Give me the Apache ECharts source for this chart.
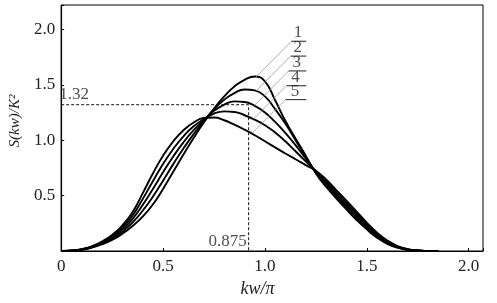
<!DOCTYPE html>
<html>
<head>
<meta charset="utf-8">
<script src="https://cdn.jsdelivr.net/npm/echarts@6/dist/echarts.min.js"></script>
<style>
    html, body {margin: 0; padding: 0; background: #fff;}
    #main {width: 497px; height: 303px;}
</style>
</head>
<body>
<div id="main"></div>
<script>
// x 网格 (kw/π)
var xs = [0, 0.05, 0.1, 0.15, 0.2, 0.25, 0.3, 0.35, 0.4, 0.45, 0.5, 0.55, 0.6, 0.65, 0.7, 0.75, 0.8, 0.85, 0.9, 0.95,
    1.0, 1.05, 1.1, 1.15, 1.2, 1.25, 1.3, 1.35, 1.4, 1.45, 1.5, 1.55, 1.6, 1.65, 1.7, 1.75, 1.8, 1.85];

// 五条曲线 S(kw)/K^2
var curve1 = [0, .002, .01, .03, .06, .10, .155, .225, .31, .42, .56, .715, .87, 1.02, 1.16, 1.285, 1.395, 1.485, 1.545, 1.575,
    1.53, 1.36, 1.175, 1.015, .86, .70, .58, .475, .375, .28, .195, .12, .065, .03, .01, .003, 0, 0];
var curve2 = [0, .0025, .0115, .033, .066, .111, .174, .256, .363, .49, .635, .784, .925, 1.055, 1.17, 1.28, 1.365, 1.425, 1.458, 1.45,
    1.395, 1.28, 1.15, 1.00, .85, .71, .595, .494, .395, .299, .21, .131, .073, .034, .012, .0035, 0, 0];
var curve3 = [0, .003, .013, .036, .073, .123, .193, .288, .415, .56, .71, .853, .98, 1.09, 1.18, 1.265, 1.32, 1.35, 1.345, 1.31,
    1.25, 1.165, 1.065, .955, .835, .715, .61, .513, .415, .318, .225, .143, .08, .038, .014, .004, 0, 0];
var curve4 = [0, .0035, .0145, .039, .079, .134, .211, .319, .468, .63, .785, .921, 1.035, 1.125, 1.19, 1.24, 1.26, 1.255, 1.225, 1.185,
    1.135, 1.07, .99, .90, .81, .72, .625, .531, .435, .336, .24, .154, .088, .041, .015, .0045, .001, 0];
var curve5 = [0, .004, .016, .042, .085, .145, .23, .35, .52, .70, .86, .99, 1.09, 1.16, 1.20, 1.205, 1.18, 1.14, 1.095, 1.045,
    .99, .935, .88, .828, .775, .725, .645, .55, .455, .355, .255, .165, .095, .045, .017, .005, .001, 0];
var curves = [curve1, curve2, curve3, curve4, curve5];

// 标注 1-5：引线在曲线上的端点、下划线的高度
var curveNames = ['1', '2', '3', '4', '5'];
var leaderEnd = [[0.957, 1.571], [0.957, 1.446], [0.947, 1.312], [0.942, 1.188], [0.937, 1.062]];
var underlineY = [1.893, 1.759, 1.625, 1.491, 1.366];
var underlineX0 = [1.130, 1.126, 1.116, 1.106, 1.101];
var underlineX1 = 1.203;

// 虚线标注点
var markX = 0.92, markY = 1.32;
var markXText = '0.875', markYText = '1.32';

var serif = 'Liberation Serif';
var myChart = echarts.init(document.getElementById('main'));

var series = [];
for (var i = 0; i < curves.length; i++) {
    var pts = [];
    for (var j = 0; j < xs.length; j++) {
        pts.push([xs[j], curves[i][j]]);
    }
    series.push({
        name: curveNames[i],
        type: 'line',
        data: pts,
        smooth: 0.5,
        showSymbol: false,
        lineStyle: {color: '#000', width: 1.9}
    });
    // 引线
    series.push({
        type: 'line',
        data: [leaderEnd[i], [underlineX0[i], underlineY[i]]],
        showSymbol: false,
        lineStyle: {color: '#999', width: 0.8}
    });
    // 下划线
    series.push({
        type: 'line',
        data: [[underlineX0[i], underlineY[i]], [underlineX1, underlineY[i]]],
        showSymbol: false,
        lineStyle: {color: '#222', width: 1}
    });
}

// 曲线编号
var labelPts = [];
for (var k = 0; k < curveNames.length; k++) {
    labelPts.push([(underlineX0[k] + underlineX1) / 2 - 0.004, underlineY[k], curveNames[k]]);
}
series.push({
    type: 'scatter',
    data: labelPts,
    symbolSize: 0,
    label: {
        show: true,
        position: 'top',
        distance: 0,
        formatter: function (p) { return p.value[2]; },
        fontFamily: serif,
        fontSize: 17,
        color: '#222'
    }
});

// 虚线
series.push({
    type: 'line',
    data: [[0, markY], [markX, markY], [markX, 0]],
    showSymbol: false,
    lineStyle: {color: '#111', width: 1, type: [3, 2]}
});
series.push({
    type: 'scatter',
    data: [[0, markY, markYText]],
    symbolSize: 0,
    label: {
        show: true, position: 'top', align: 'left', distance: 2, offset: [-2, 0],
        formatter: function (p) { return p.value[2]; },
        fontFamily: serif, fontSize: 17, color: '#222'
    }
});
series.push({
    type: 'scatter',
    data: [[markX, 0, markXText]],
    symbolSize: 0,
    label: {
        show: true, position: 'top', align: 'right', distance: 1, offset: [-2, 0],
        formatter: function (p) { return p.value[2]; },
        fontFamily: serif, fontSize: 17, color: '#222'
    }
});

function halfStep(v) {
    return Math.abs(v * 2 - Math.round(v * 2)) < 1e-6;
}

var option = {
    animation: false,
    backgroundColor: '#fff',
    grid: {
        left: 54, right: 14, top: 5, bottom: 49,
        show: true, borderColor: '#000', borderWidth: 1
    },
    xAxis: {
        type: 'value',
        min: 0, max: 2.07, interval: 0.5,
        name: 'kw/π',
        nameLocation: 'middle',
        nameGap: 29,
        nameTextStyle: {fontFamily: serif, fontStyle: 'italic', fontSize: 18, color: '#222', padding: [0, 29, 0, 0]},
        axisLine: {lineStyle: {color: '#000', width: 1.2}},
        axisTick: {inside: true, length: 3, lineStyle: {color: '#000'}},
        axisLabel: {
            margin: 7,
            fontFamily: serif, fontSize: 17, color: '#222',
            formatter: function (v) {
                if (!halfStep(v)) return '';
                return v === 0 ? '0' : v.toFixed(1);
            }
        },
        splitLine: {show: false}
    },
    yAxis: {
        type: 'value',
        min: 0, max: 2.22, interval: 0.5,
        name: 'S(kw)/K²',
        nameLocation: 'middle',
        nameGap: 38,
        nameRotate: 90,
        nameTextStyle: {fontFamily: serif, fontStyle: 'italic', fontSize: 15, color: '#222', padding: [0, 0, 0, 14]},
        axisLine: {lineStyle: {color: '#000', width: 1.2}},
        axisTick: {inside: true, length: 3, lineStyle: {color: '#000'}},
        axisLabel: {
            margin: 6,
            fontFamily: serif, fontSize: 17, color: '#222',
            formatter: function (v) {
                if (v === 0 || !halfStep(v)) return '';
                return v.toFixed(1);
            }
        },
        splitLine: {show: false}
    },
    series: series
};
myChart.setOption(option);
</script>
</body>
</html>
